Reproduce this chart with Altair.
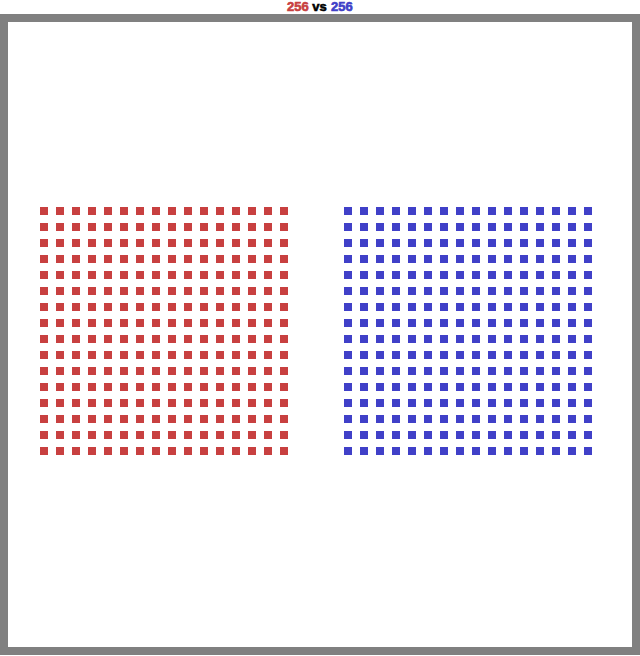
import altair as alt
import pandas as pd

# Counts shown in the title and drawn as squares
groups = ["red", "blue"]
counts = [256, 256]
colors = ["#c84040", "#4040c8"]
title_parts = ["256", "vs", "256"]
title_colors = ["#c84040", "#000000", "#4040c8"]
side = 16          # squares per row in each block
col_offsets = [0, 19]  # starting column of each block

rows = []
for g, n, off in zip(groups, counts, col_offsets):
    for k in range(n):
        rows.append({"group": g, "col": off + k % side, "row": k // side})
df = pd.DataFrame(rows)

W, H = 632, 633
unit = 16
x0 = -40 / unit
y0 = -193 / unit

squares = alt.Chart(df).mark_square(size=64, opacity=1, filled=True).encode(
    x=alt.X("col:Q", axis=None, scale=alt.Scale(domain=[x0, x0 + W / unit], nice=False, zero=False)),
    y=alt.Y("row:Q", axis=None, scale=alt.Scale(domain=[y0, y0 + H / unit], nice=False, zero=False, reverse=True)),
    color=alt.Color("group:N", legend=None, scale=alt.Scale(domain=groups, range=colors)),
)

tdf = pd.DataFrame({"t": title_parts, "c": title_colors})


def part(i, align, x):
    return alt.Chart(tdf.iloc[[i]]).mark_text(
        align=align, fontSize=13, fontWeight="bold", font="Liberation Sans",
        color=title_colors[i], stroke=title_colors[i], strokeWidth=0.6,
        baseline="alphabetic",
    ).encode(text="t:N", x=alt.value(x), y=alt.value(-7))


t_red = part(0, "right", 304.7)
t_vs = part(1, "center", 315.5)
t_blue = part(2, "left", 327)

chart = alt.layer(squares, t_red, t_vs, t_blue).properties(
    width=W, height=H,
    autosize=alt.AutoSizeParams(type="none"),
    padding={"left": 4, "top": 18, "right": 4, "bottom": 5},
    background="white",
).configure_view(fill="white", stroke="#808080", strokeWidth=8)

chart.save("out.html", embed_options={"renderer": "svg", "actions": False})
